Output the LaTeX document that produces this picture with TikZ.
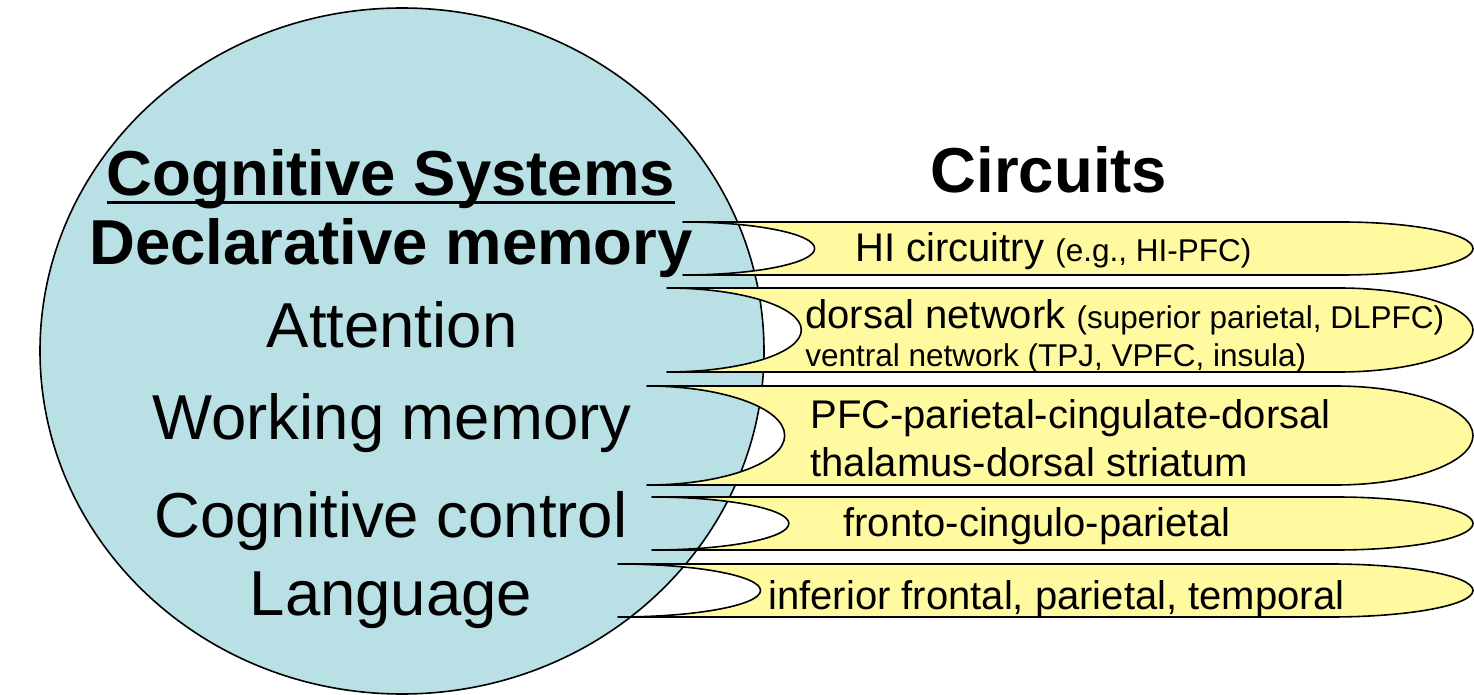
\documentclass[tikz,border=0pt]{standalone}
\usepackage{fontspec}
\setmainfont{Liberation Sans}
\usetikzlibrary{calc}

\definecolor{sysblue}{RGB}{185,224,228}
\definecolor{bandyellow}{RGB}{255,250,160}

\newcommand{\smallsz}{\fontsize{15.75}{19}\selectfont}

\tikzset{
  outline/.style={draw=black, line width=0.8pt},
  band/.style={fill=bandyellow, draw=black, line width=0.8pt, line join=round},
  systext/.style={inner sep=0pt, anchor=base, font=\fontsize{31.75}{38}\selectfont},
  headtext/.style={inner sep=0pt, anchor=base, font=\bfseries\fontsize{31.75}{38}\selectfont},
  circtext/.style={inner sep=0pt, anchor=base west, font=\fontsize{20}{24}\selectfont},
  smalltext/.style={inner sep=0pt, anchor=base west, font=\smallsz},
}

% A band with a concave left end and a convex right end (half ellipses of width w/6)
% #1 left x, #2 top y, #3 right x, #4 bottom y
\newcommand{\circband}[4]{%
  \pgfmathsetmacro\bw{(#3-#1)/6}%
  \pgfmathsetmacro\bh{(#4-#2)/2}%
  \pgfmathsetmacro\bm{(#2+#4)/2}%
  \pgfmathsetmacro\xa{#1+\bw}%
  \pgfmathsetmacro\xb{#3-\bw}%
  \pgfmathsetmacro\cx{0.5523*\bw}%
  \pgfmathsetmacro\cy{0.5523*\bh}%
  \path[band] (#1,#2) -- (\xb,#2)
    .. controls (\xb+\cx,#2) and (#3,\bm-\cy) .. (#3,\bm)
    .. controls (#3,\bm+\cy) and (\xb+\cx,#4) .. (\xb,#4)
    -- (#1,#4)
    .. controls (#1+\cx,#4) and (\xa,\bm+\cy) .. (\xa,\bm)
    .. controls (\xa,\bm-\cy) and (#1+\cx,#2) .. cycle;
}

\begin{document}
\begin{tikzpicture}[x=0.5pt, y=-0.5pt]
  \useasboundingbox (0,0) rectangle (1474,695);

  % cognitive systems disc
  \path[fill=sysblue, outline] (402,351) ellipse [x radius=181pt, y radius=171.5pt];

  % circuit bands
  \circband{683}{222}{1473}{275}
  \circband{667}{288}{1473}{372}
  \circband{647}{386}{1473}{485}
  \circband{652}{497}{1473}{550}
  \circband{618}{564}{1473}{617}

  % left column
  \node[headtext] (cogsys) at (391,196) {Cognitive Systems};
  \draw[line width=1.5pt] ($(cogsys.base west)+(0,7)$) -- ($(cogsys.base east)+(0,7)$);
  \node[headtext] (decl) at (391,265) {Declarative memory};
  \node[systext] (attn) at (392,348) {Attention};
  \node[systext] (wm) at (392,440) {Working memory};
  \node[systext] (cc) at (391,538) {Cognitive control};
  \node[systext] (lang) at (391,615) {Language};

  % right column
  \node[headtext] (circ) at (1049,193) {Circuits};
  \node[circtext] (hi) at (855,262) {HI circuitry {\smallsz(e.g., HI-PFC)}};
  \node[circtext] (dors) at (805,329) {dorsal network {\smallsz(superior parietal, DLPFC)}};
  \node[smalltext] (vent) at (805,367) {ventral network (TPJ, VPFC, insula)};
  \node[circtext] (pfc1) at (810,429) {PFC-parietal-cingulate-dorsal};
  \node[circtext] (pfc2) at (810,477) {thalamus-dorsal striatum};
  \node[circtext] (fcp) at (843,537) {fronto-cingulo-parietal};
  \node[circtext] (ifpt) at (768,609) {inferior frontal, parietal, temporal};
\end{tikzpicture}
\end{document}
